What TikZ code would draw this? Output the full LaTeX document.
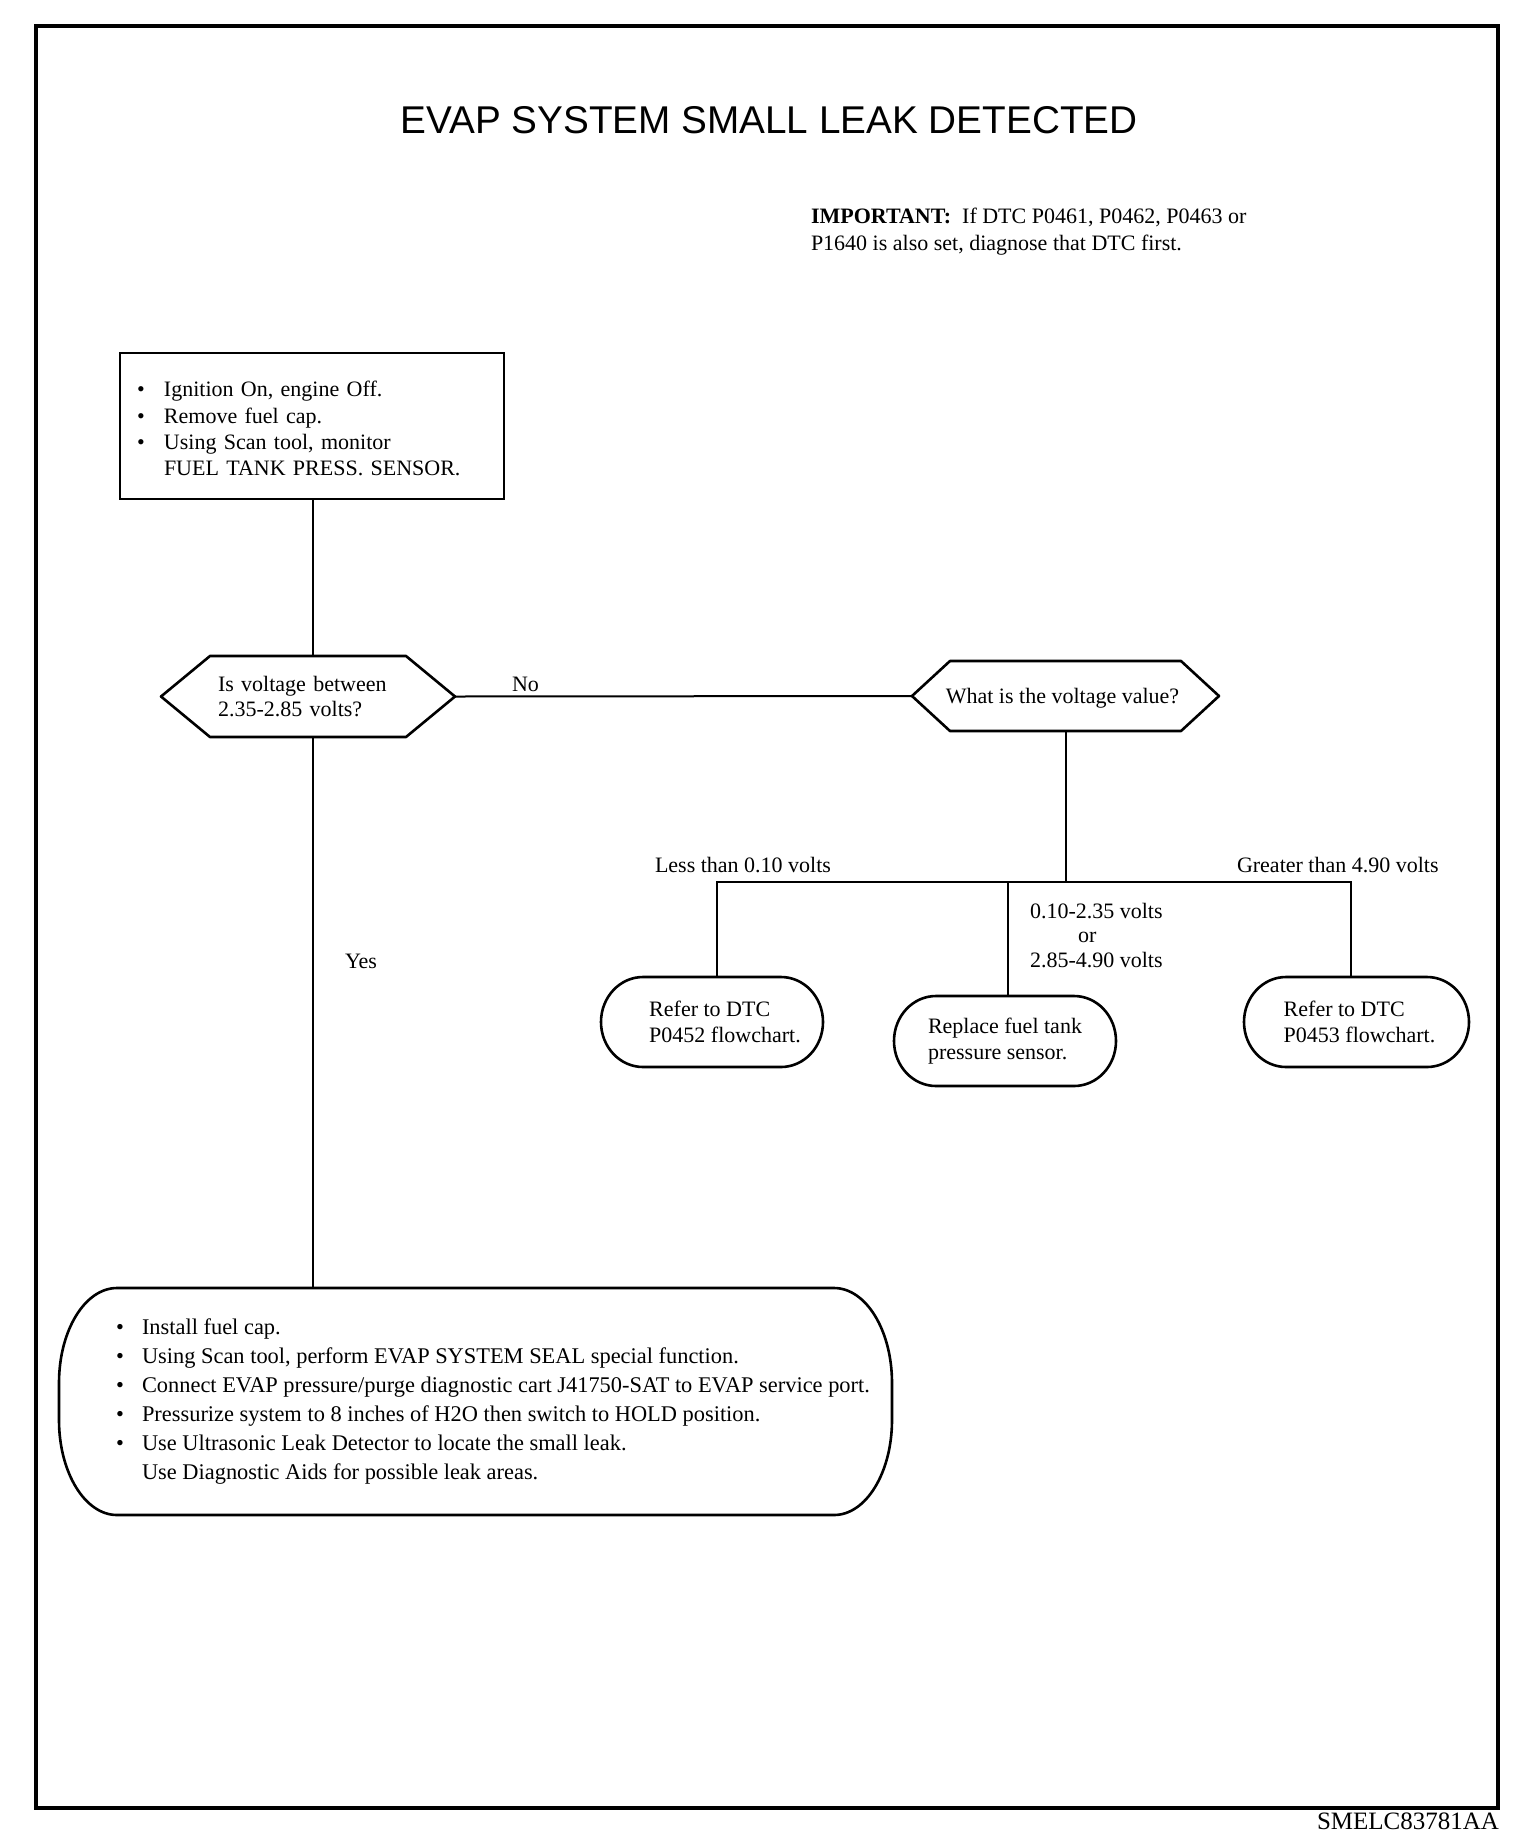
\documentclass[tikz,border=0pt]{standalone}
\usepackage{fontspec}
\setmainfont{Liberation Serif}
\newfontfamily\titlefont{Liberation Sans}
\usetikzlibrary{calc}
\newcommand\bul[1][25pt]{\makebox[#1][l]{\textbullet}}
\newcommand\softoutline[3]{%
 \draw[shapeline] ([xshift=#2]#1.north west) -- ([xshift=-#2]#1.north east)
   arc[start angle=90,end angle=0,x radius=#2,y radius=#3]
   -- ([yshift=#3]#1.south east)
   arc[start angle=0,end angle=-90,x radius=#2,y radius=#3]
   -- ([xshift=#2]#1.south west)
   arc[start angle=270,end angle=180,x radius=#2,y radius=#3]
   -- ([yshift=-#3]#1.north west)
   arc[start angle=180,end angle=90,x radius=#2,y radius=#3] -- cycle;}
\newcommand\hexoutline[2]{%
 \draw[shapeline] (#1.west) -- ([xshift=#2]#1.north west) -- ([xshift=-#2]#1.north east)
   -- (#1.east) -- ([xshift=-#2]#1.south east) -- ([xshift=#2]#1.south west) -- cycle;}
\begin{document}
\begin{tikzpicture}[x=1pt,y=1pt,
  every node/.style={inner sep=0pt, outer sep=0pt},
  txt/.style={font=\fontsize{22}{24.5}\selectfont},
  lbl/.style={txt, anchor=base west},
  boxnode/.style={font=\fontsize{22}{26.3}\selectfont, draw, line width=2.2pt, minimum width=384pt, minimum height=146pt, text width=350pt, align=left},
  hexnode/.style={txt, align=left},
  capnode/.style={font=\fontsize{22}{26}\selectfont, align=left},
  shapeline/.style={line width=2.6pt, line join=round},
  conn/.style={line width=2pt}]
\useasboundingbox (0,0) rectangle (1536,-1848);
\fill[white] (0,0) rectangle (1536,-1848);
% frame
\draw[line width=4.5pt] (36,-26) rectangle (1498,-1808);
% title and note
\node[font=\titlefont\fontsize{38.7}{41}\selectfont, anchor=base] (title) at (769,-133) {EVAP SYSTEM SMALL LEAK DETECTED};
\node[lbl] (imp1) at (811,-223) {\textbf{IMPORTANT:}\ \ If DTC P0461, P0462, P0463 or};
\node[lbl] (imp2) at (811,-250) {P1640 is also set, diagnose that DTC first.};
% box 1
\node[boxnode] (b1) at (312,-426) {\bul[27pt]\rule{0pt}{21pt}Ignition On, engine Off.\\\bul[27pt]Remove fuel cap.\\\bul[27pt]Using Scan tool, monitor\\\hspace*{27pt}FUEL TANK PRESS. SENSOR.};
% decision 1
\node[hexnode, minimum width=294pt, minimum height=81pt, text width=180pt] (d1) at (308,-696.5) {Is voltage between\\2.35-2.85 volts?};
\hexoutline{d1}{49pt}
% decision 2
\node[hexnode, minimum width=307pt, minimum height=70pt] (d2) at (1065.5,-696) {\raisebox{-2pt}[\height][\depth]{What is the voltage value?\hspace*{6pt}}};
\hexoutline{d2}{38pt}
% terminals
\node[capnode, minimum width=222pt, minimum height=90pt] (t1) at (712,-1022) {\hspace*{26pt}Refer to DTC\\\hspace*{26pt}P0452 flowchart.};
\softoutline{t1}{42pt}{45pt}
\node[capnode, minimum width=222pt, minimum height=90pt] (t2) at (1005,-1041) {Replace fuel tank\\pressure sensor.};
\softoutline{t2}{42pt}{45pt}
\node[capnode, minimum width=225pt, minimum height=90pt] (t3) at (1356.5,-1022) {\hspace*{6pt}Refer to DTC\\\hspace*{6pt}P0453 flowchart.};
\softoutline{t3}{42pt}{45pt}
% big box
\node[minimum width=833pt, minimum height=227pt, font=\fontsize{22.4}{29}\selectfont] (bb) at (475.5,-1401.5) {\hspace*{35pt}\begin{tabular}{@{}l@{}}
\bul[26pt]Install fuel cap.\\
\bul[26pt]Using Scan tool, perform EVAP SYSTEM SEAL special function.\\
\bul[26pt]Connect EVAP pressure/purge diagnostic cart J41750-SAT to EVAP service port.\\
\bul[26pt]Pressurize system to 8 inches of H2O then switch to HOLD position.\\
\bul[26pt]Use Ultrasonic Leak Detector to locate the small leak.\\
\hspace*{26pt}Use Diagnostic Aids for possible leak areas.
\end{tabular}};
\softoutline{bb}{58pt}{95pt}
% connector coordinates
\coordinate (v1) at (312.5,0);
\coordinate (bl) at (717,-882);
\coordinate (br) at (1351,-882);
\coordinate (bm) at (1008,-882);
% connectors
\draw[conn] (b1.south -| v1) -- (d1.north -| v1);
\draw[conn] (d1.south -| v1) -- (bb.north -| v1);
\draw[conn] (d1.east) -- (d2.west);
\draw[conn] (d2.south) -- (d2.south |- bl);
\draw[conn] (t1.north -| bl) -- (bl) -- (br) -- (t3.north -| br);
\draw[conn] (bm) -- (t2.north -| bm);
% labels
\node[lbl] (no) at (512,-691) {No};
\node[lbl] (yes) at (345,-968) {Yes};
\node[lbl] (less) at (655,-872) {Less than 0.10 volts};
\node[lbl] (greater) at (1237,-872) {Greater than 4.90 volts};
\node[lbl] (mid1) at (1030,-918) {0.10-2.35 volts};
\node[lbl] (mid2) at (1078,-942) {or};
\node[lbl] (mid3) at (1030,-967) {2.85-4.90 volts};
% figure id
\node[font=\fontsize{25}{27}\selectfont, anchor=base east] (figid) at (1499,-1829) {SMELC83781AA};
\end{tikzpicture}
\end{document}
